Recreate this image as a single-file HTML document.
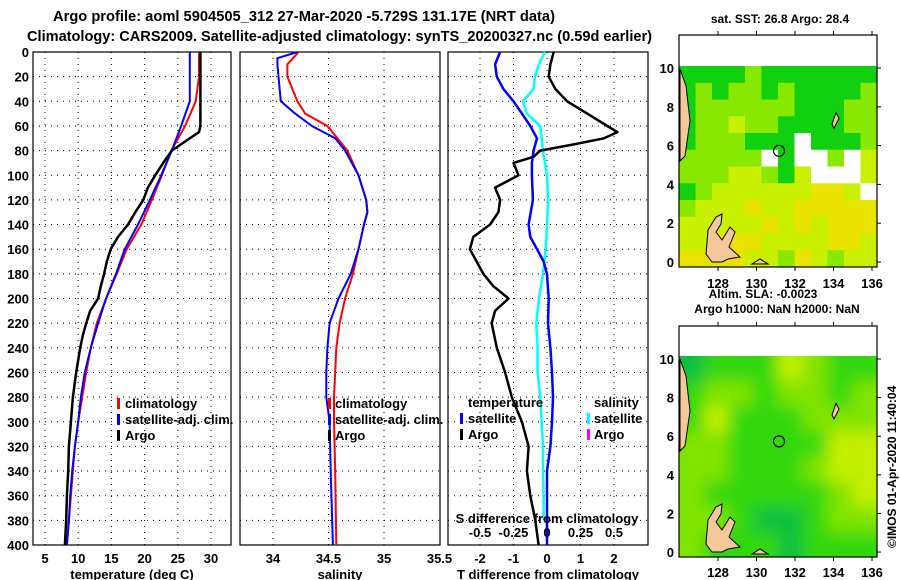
<!DOCTYPE html>
<html><head><meta charset="utf-8"><style>
html,body{margin:0;padding:0;background:#fff}
svg{display:block}
text{font-family:"Liberation Sans",sans-serif;font-weight:bold;fill:#000}
</style></head><body>
<svg id="chart" width="900" height="580" viewBox="0 0 900 580" xmlns="http://www.w3.org/2000/svg">
<defs>
<filter id="blur"><feGaussianBlur stdDeviation="8"/></filter>
<clipPath id="clip2"><rect x="679" y="356" width="198" height="201"/></clipPath>
</defs>
<text x="53" y="21" font-size="15" textLength="502" lengthAdjust="spacingAndGlyphs">Argo profile: aoml 5904505_312 27-Mar-2020 -5.729S 131.17E (NRT data)</text>
<text x="27" y="41" font-size="15" textLength="625" lengthAdjust="spacingAndGlyphs">Climatology: CARS2009. Satellite-adjusted climatology: synTS_20200327.nc (0.59d earlier)</text>
<g id="g"></g>
</svg>
<script>
// ---------- data ----------
const depths = [0,10,20,30,40,50,60,65,70,80,90,100,110,120,130,140,150,160,170,180,190,200,210,220,230,240,260,280,300,320,340,360,380,400];
const argoTemp = [28.4,28.4,28.4,28.4,28.4,28.4,28.4,28.2,26.8,24.1,22.8,21.6,20.5,19.8,18.6,17.5,16.0,14.9,14.3,13.9,13.4,13.0,11.8,11.2,10.7,10.3,9.7,9.2,8.9,8.6,8.5,8.3,8.2,8.0];
const climDepths = [0,20,40,60,80,100,120,140,160,180,200,220,240,260,280,300,320,340,360,380,400];
const climTemp = [28.2,28.2,27.7,26.1,24.0,22.6,21.1,19.5,17.3,15.8,14.2,12.8,11.9,11.2,10.6,10.0,9.5,9.2,8.9,8.6,8.3];
const satTemp = [26.8,26.8,26.8,25.5,24.1,22.5,20.8,19.0,17.0,15.7,14.2,13.0,11.9,11.0,10.4,10.0,9.5,9.1,8.8,8.6,8.3];
const salDepths = [0,5,10,20,40,50,60,70,80,100,120,130,140,160,180,200,220,240,260,280,300,340,400];
const climSal = [34.23,34.18,34.13,34.13,34.22,34.29,34.49,34.58,34.67,34.77,34.84,34.85,34.82,34.77,34.72,34.65,34.60,34.57,34.56,34.55,34.55,34.56,34.57];
const satSal = [34.22,34.04,34.04,34.05,34.07,34.20,34.35,34.56,34.65,34.77,34.84,34.85,34.82,34.77,34.70,34.59,34.51,34.49,34.48,34.48,34.51,34.52,34.54];
const diffDepths = [0,10,20,30,40,50,60,65,70,75,80,85,90,100,110,120,130,140,150,160,170,180,190,200,210,220,240,260,280,300,320,340,360,380,400];
const argoTdiff = [0.2,0.1,0.05,0.25,0.6,1.2,1.8,2.1,1.7,0.8,-0.2,-0.4,-1.0,-0.85,-1.55,-1.4,-1.45,-1.7,-2.2,-2.3,-2.1,-1.9,-1.6,-1.15,-1.55,-1.65,-1.5,-1.25,-1.05,-0.75,-0.55,-0.6,-0.5,-0.35,-0.25];
const satDepthsD = [0,10,20,30,40,50,60,70,80,90,100,120,140,150,160,170,180,200,220,240,260,280,300,320,340,360,400];
const satTdiff = [-1.4,-1.55,-1.5,-1.3,-1.0,-0.75,-0.5,-0.3,-0.4,-0.45,-0.45,-0.42,-0.55,-0.5,-0.3,-0.1,0,0.05,0.03,0.1,0.15,0.18,0.15,0.1,0.0,0.0,0.0];
const satSdiffDepths = [0,10,20,30,40,50,60,70,80,100,120,140,160,180,200,220,240,260,280,300,320,340,360,380];
const satSdiff = [-0.015,-0.06,-0.09,-0.1,-0.18,-0.15,-0.05,-0.04,-0.03,0,0.01,0,-0.01,-0.03,-0.06,-0.08,-0.07,-0.07,-0.05,-0.04,-0.03,-0.03,-0.025,-0.025];
const depthTicks = [0,20,40,60,80,100,120,140,160,180,200,220,240,260,280,300,320,340,360,380,400];
const tempTicks = [5,10,15,20,25,30];
const salTicks = [34,34.5,35,35.5];
const tdiffTicks = [-2,-1,0,1,2];
const sdiffTicks = [-0.5,-0.25,0,0.25,0.5];
const lonTicks = [128,130,132,134,136];
const latTicks = [0,2,4,6,8,10];
const sstGrid = [
[0,0,0,0,1,0,0,0,0,0,0,0],
[0,1,0,1,1,0,1,0,0,0,0,1],
[0,1,1,1,1,1,1,0,0,0,1,1],
[0,1,1,2,1,1,0,0,0,0,1,1],
[0,1,1,1,0,0,0,9,0,0,0,1],
[1,1,1,1,1,9,0,9,9,1,9,2],
[1,1,1,2,2,1,0,2,9,9,9,2],
[0,1,2,2,2,2,2,2,3,3,2,9],
[1,2,2,2,3,2,2,3,3,3,3,3],
[2,2,2,2,2,3,2,3,2,3,3,3],
[2,2,3,3,3,2,2,2,2,3,3,2],
[3,3,3,3,2,2,1,3,2,1,2,2]];
const slaGrid = [
[0,1,1,1,3,2,1,1],
[1,2,2,1,2,2,1,2],
[1,3,1,1,1,2,2,2],
[2,2,1,1,1,1,3,3],
[2,2,1,1,1,2,3,3],
[2,1,1,1,1,1,2,3],
[2,2,1,0,0,1,2,2],
[2,1,1,1,0,1,1,1]];
const argoLon = 131.17, argoLat = 5.73;

// ---------- helpers ----------
const NS="http://www.w3.org/2000/svg";
const G=document.getElementById('g');
function el(tag,attrs,parent){const e=document.createElementNS(NS,tag);for(const k in attrs)e.setAttribute(k,attrs[k]);(parent||G).appendChild(e);return e;}
const Y0=52,Y1=545;
const yD=d=>Y0+(d/400)*(Y1-Y0);
function lin(d0,d1,r0,r1){return v=>r0+(v-d0)/(d1-d0)*(r1-r0);}
const xT=lin(5,30,45,211), xS=lin(34,35,273,384), xTd=lin(-2,2,480,614), xSd=lin(-0.5,0.5,480,614);

function panel(x0,x1,name,ticks,xf,fmt,title){
  const f=el('rect',{x:x0,y:Y0,width:x1-x0,height:Y1-Y0,fill:'none',stroke:'#000','stroke-width':1.2});
  
  
  depthTicks.forEach(d=>{ if(d>0&&d<400){const l=el('line',{x1:x0,x2:x1,y1:yD(d),y2:yD(d),stroke:'#000','stroke-dasharray':'1,5'});
    
    }});
  ticks.forEach(t=>{const x=xf(t); if(x>x0+1&&x<x1-1){const l=el('line',{x1:x,x2:x,y1:Y0,y2:Y1,stroke:'#000','stroke-dasharray':'1,5'});
    
    }
    const tx=el('text',{x:x,y:563,'font-size':13,'text-anchor':'middle'});tx.textContent=fmt(t);
    
    });
  const tt=el('text',{x:(x0+x1)/2,y:579,'font-size':13,'text-anchor':'middle'});tt.textContent=title;
  
  
}
function line(ds,vs,xf,color,w,name){
  const p=ds.map((d,i)=>(i?'L':'M')+xf(vs[i]).toFixed(1)+','+yD(d).toFixed(1)).join('');
  const e=el('path',{d:p,fill:'none',stroke:color,'stroke-width':w,'stroke-linejoin':'round'});
  
  
}
function txt(x,y,s,size,name,anchor){const t=el('text',{x:x,y:y,'font-size':size,'text-anchor':anchor||'start'});t.textContent=s;
  
  return t;}
function mark(x,y,c,name){const r=el('rect',{x:x,y:y-10,width:3,height:11,fill:c});
  
  }

depthTicks.forEach(d=>{txt(29,yD(d)+5,String(d),13,'depth-tick','end');});

panel(33,231,'temperature-panel',tempTicks,xT,String,'temperature (deg C)');
panel(240,440,'salinity-panel',salTicks,xS,String,'salinity');
panel(448,648,'difference-panel',tdiffTicks,xTd,String,'T difference from climatology');

line(climDepths,climTemp,xT,'#ff0000',2,'temp-climatology-line');
line(climDepths,satTemp,xT,'#0000ff',2,'temp-satellite-line');
line(depths,argoTemp,xT,'#000',2.5,'temp-argo-line');
line(salDepths,climSal,xS,'#ff0000',2,'salinity-climatology-line');
line(salDepths,satSal,xS,'#0000ff',2,'salinity-satellite-line');
line(satSdiffDepths,satSdiff,xSd,'#00ffff',2.5,'sdiff-satellite-line');
line(satDepthsD,satTdiff,xTd,'#0000ff',2.5,'tdiff-satellite-line');
line(diffDepths,argoTdiff,xTd,'#000',2.5,'tdiff-argo-line');

[['climatology','#ff0000'],['satellite-adj. clim.','#0000ff'],['Argo','#000']].forEach((e,i)=>{
  const y=408+i*16;
  mark(117,y,e[1],'temp-legend-marker');txt(125,y,e[0],13,'temp-legend-entry');
  mark(328,y,e[1],'sal-legend-marker');txt(335,y,e[0],13,'sal-legend-entry');
});
txt(468,407,'temperature',13,'diff-legend-temp-heading');
txt(594,407,'salinity',13,'diff-legend-sal-heading');
mark(460,423,'#0000ff','diff-legend-marker');txt(468,423,'satellite',13,'diff-legend-entry');
mark(460,439,'#000','diff-legend-marker');txt(468,439,'Argo',13,'diff-legend-entry');
mark(587,423,'#00ffff','diff-legend-marker');txt(594,423,'satellite',13,'diff-legend-entry');
mark(587,439,'#ff00ff','diff-legend-marker');txt(594,439,'Argo',13,'diff-legend-entry');
txt(547,523,'S difference from climatology',13,'sdiff-axis-title','middle');
sdiffTicks.forEach(s=>txt(xSd(s),537,String(s),13,'sdiff-tick','middle'));

// ---------- maps ----------
const sstCols=['#10d010','#88e800','#c8f000','#e8e400','#f2d000'];
const slaCols=['#10c040','#30d810','#80e400','#c4ef00'];
function map(x0,y0,y1,lat0y,lat10y,dataTop,grid,cols,name,blur,labY){
  const lonX=lin(128,136,718,872), latY=lin(0,10,lat0y,lat10y);
  const gT=dataTop, gB=y1;
  const g=el('g',blur?{'clip-path':'url(#clip2)'}:{});
  
  
  const inner=blur?el('g',{filter:'url(#blur)'},g):g;
  const R=grid.length,C=grid[0].length,cw=(877-x0)/C,ch=(gB-gT)/R;
  const ext=blur?25:0;
  grid.forEach((row,r)=>row.forEach((v,c)=>{
    const x=x0+c*cw-(c===0?ext:0), y=gT+r*ch-(r===0?ext:0);
    const w=cw+0.4+(c===0?ext:0)+(c===C-1?ext:0), h=ch+0.4+(r===0?ext:0)+(r===R-1?ext:0);
    const cell=el('rect',{x:x,y:y,width:w,height:h,fill:v===9?'#fff':cols[v]},inner);
    
    
  }));
  const land=[[[680,gT+3],[686,gT+20],[690,gT+55],[685,gT+90],[680,gT+95]],
    [[712,lat0y],[706,lat0y-8],[708,lat0y-32],[716,lat0y-45],[722,lat0y-48],[721,lat0y-38],[716,lat0y-30],[722,lat0y-22],[730,lat0y-35],[735,lat0y-30],[729,lat0y-15],[740,lat0y-5],[728,lat0y-3],[722,lat0y]],
    [[752,lat0y+2],[760,lat0y-3],[768,lat0y+2]]];
  land.forEach(pts=>{const p=el('path',{d:'M'+pts.map(q=>q.join(',')).join('L')+'Z',fill:'#f5c89a',stroke:'#000','stroke-width':1});
    
    });
  const isl=el('path',{d:`M836,${latY(7.7)}L839,${latY(7.4)}L834,${latY(6.9)}L832,${latY(7.1)}Z`,fill:'#f5c89a',stroke:'#000'});
  
  
  const fr=el('rect',{x:x0,y:y0,width:877-x0,height:y1-y0,fill:'none',stroke:'#000','stroke-width':1.2});
  
  
  lonTicks.forEach(l=>{const x=lonX(l);
    const t1=el('line',{x1:x,x2:x,y1:y1,y2:y1+4,stroke:'#000'});
    const t2=el('line',{x1:x,x2:x,y1:y0,y2:y0-4,stroke:'#000'});
    txt(x,labY,String(l),13,name+'-lon-label','middle');});
  latTicks.forEach(l=>{const y=latY(l);
    const t1=el('line',{x1:877,x2:881,y1:y,y2:y,stroke:'#000'});
    txt(674,y+5,String(l),13,name+'-lat-label','end');});
  const c=el('circle',{cx:lonX(argoLon),cy:latY(argoLat),r:5.5,fill:'none',stroke:'#000','stroke-width':1.2});
  
  
}
map(679,35,267,262,68,66,sstGrid,sstCols,'sst-map',false,288);
map(679,326,557,552,359,356,slaGrid,slaCols,'sla-map',true,577);
txt(780,23,'sat. SST: 26.8 Argo: 28.4',12,'sst-map-title','middle');
txt(763,298,'Altim. SLA: -0.0023',12,'sla-value','middle');
txt(777,313,'Argo h1000: NaN h2000: NaN',12,'sla-map-title','middle');
const cr=txt(0,0,'©IMOS 01-Apr-2020 11:40:04',12,'copyright-stamp','start');
cr.setAttribute('font-weight','normal');
cr.setAttribute('transform','translate(896,548) rotate(-90)');
</script>
</body></html>
